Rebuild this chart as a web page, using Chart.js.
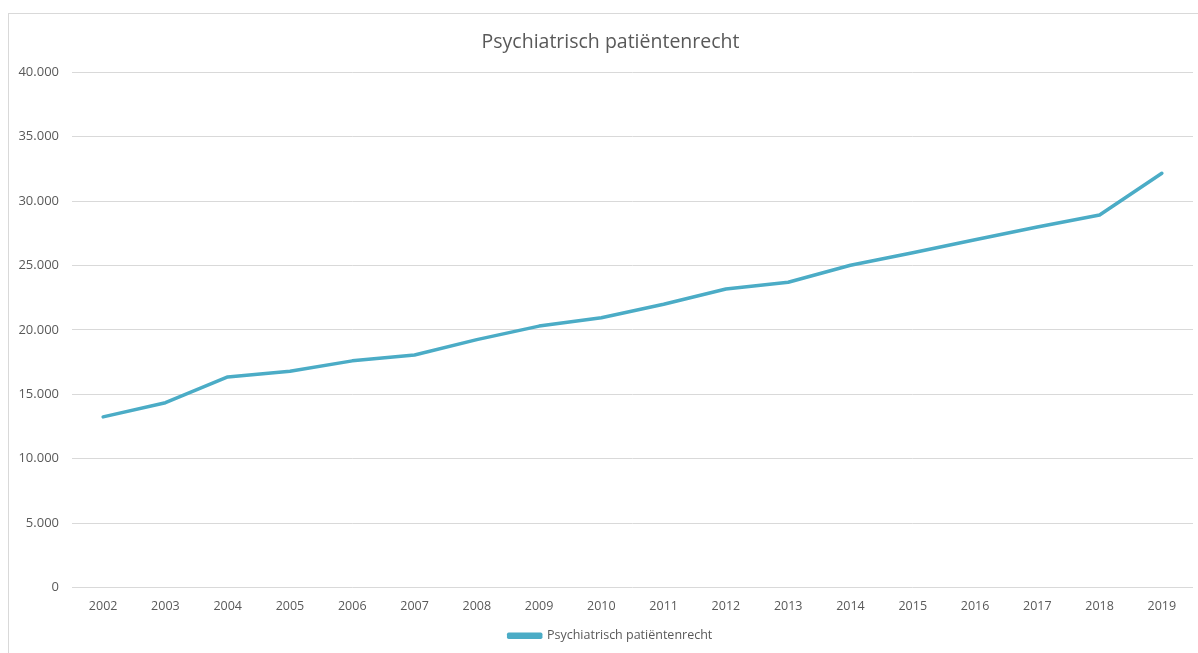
<!DOCTYPE html>
<html>
<head>
<meta charset="utf-8">
<script src="https://cdn.jsdelivr.net/npm/chart.js@4.4.1/dist/chart.umd.min.js"></script>
<style>
  html, body { margin: 0; padding: 0; background: #fff; }
  #frame { position: absolute; left: 8px; top: 13px; width: 1200px; height: 650px; border: 1px solid #d9d9d9; }
  #wrap { position: absolute; left: 0; top: 0; width: 1198px; height: 653px; }
</style>
</head>
<body>
<div id="frame"></div>
<div id="wrap"><canvas id="myChart"></canvas></div>
<script>
'use strict';

const years = ['2002', '2003', '2004', '2005', '2006', '2007', '2008', '2009', '2010',
  '2011', '2012', '2013', '2014', '2015', '2016', '2017', '2018', '2019'];
const patients = [13250, 14350, 16350, 16800, 17600, 18050, 19250, 20300, 20950,
  22000, 23180, 23700, 25020, 26000, 27000, 28000, 28930, 32170];
const yTicks = [0, 5000, 10000, 15000, 20000, 25000, 30000, 35000, 40000];

const seriesName = 'Psychiatrisch patiëntenrecht';
const lineColor = '#4bacc6';
const textColor = '#595959';
const fontFamily = '"Open Sans", "Noto Sans", sans-serif';

function formatNL(v) {
  return v.toLocaleString('nl-NL');
}

// the original frame runs past the right edge of the picture, so title and
// legend sit a bit right of the page centre: nudge their boxes after layout
const shiftBlocks = {
  id: 'shiftBlocks',
  afterLayout(chart) {
    if (chart.titleBlock) {
      chart.titleBlock.left += 10;
      chart.titleBlock.right += 10;
    }
    if (chart.legend) {
      chart.legend.left += 10;
      chart.legend.right += 10;
    }
  }
};

const config = {
  type: 'line',
  data: {
    labels: years,
    datasets: [{
      label: seriesName,
      data: patients,
      borderColor: lineColor,
      backgroundColor: lineColor,
      borderWidth: 3.5,
      borderCapStyle: 'round',
      borderJoinStyle: 'round',
      pointRadius: 0,
      tension: 0,
      fill: false
    }]
  },
  options: {
    responsive: true,
    maintainAspectRatio: false,
    animation: false,
    layout: { padding: { left: 8, right: 5, top: 0, bottom: 1 } },
    plugins: {
      title: {
        display: true,
        text: seriesName,
        color: textColor,
        font: { family: fontFamily, size: 19.5, weight: 'normal' },
        padding: { top: 31, bottom: 18 }
      },
      legend: {
        position: 'bottom',
        labels: {
          color: textColor,
          font: { family: fontFamily, size: 12.5 },
          boxWidth: 32,
          boxHeight: 3,
          padding: 7
        }
      },
      tooltip: { enabled: false }
    },
    scales: {
      x: {
        offset: true,
        grid: { display: false, drawTicks: false },
        border: { display: false },
        ticks: {
          color: textColor,
          font: { family: fontFamily, size: 12.5 },
          padding: 11,
          maxRotation: 0
        },
        afterFit: function(scale) { scale.height = 35; }
      },
      y: {
        min: 0,
        max: 40000,
        afterBuildTicks: function(scale) {
          scale.ticks = yTicks.map(v => ({ value: v }));
        },
        grid: { color: '#d9d9d9', lineWidth: 1, drawTicks: false },
        border: { display: false },
        ticks: {
          color: textColor,
          font: { family: fontFamily, size: 13 },
          padding: 13,
          callback: function(v) { return formatNL(v); }
        },
        afterFit: function(scale) { scale.width = 64; }
      }
    }
  },
  plugins: [shiftBlocks]
};

Chart.defaults.font.family = fontFamily;
new Chart(document.getElementById('myChart'), config);
</script>
</body>
</html>
